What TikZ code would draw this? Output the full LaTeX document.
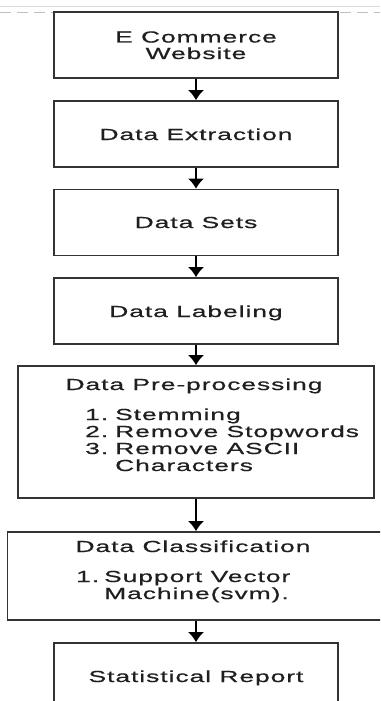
\documentclass[tikz,border=0pt]{standalone}
\usepackage{fontspec}
\setmainfont{Liberation Sans}[FakeStretch=1.65,LetterSpace=6,FakeBold=0.6]
\usetikzlibrary{arrows.meta}

\newcommand*{\wmin}{0}
\newcommand*{\wmax}{380}
\newcommand*{\hmax}{701}
\newcommand*{\midx}{196}

\begin{document}
\begin{tikzpicture}
[
	x=1pt,
	y=-1pt,
	stepbox/.style={draw=black!80,line width=1.6pt,fill=white,inner sep=0pt,minimum width=284pt,minimum height=66pt},
	boxtext/.style={anchor=base,inner sep=0pt,align=center,text=black!88,font=\fontsize{16}{16.5}\selectfont},
	listtext/.style={anchor=base west,inner sep=0pt,text=black!88,font=\fontsize{16}{17}\selectfont},
	flow/.style={-{Latex[width=16pt,length=10pt]},line width=1.6pt}
]

	\useasboundingbox (\wmin,0) rectangle (\wmax,\hmax);
	\clip (\wmin,0) rectangle (\wmax,\hmax);

	% page edge
	\draw[black!15,line width=1pt] (\wmin,7) -- (\wmax,7);
	\draw[black!25,line width=1pt,dash pattern=on 11pt off 6pt] (\wmin,12.5) -- (\wmax,12.5);

	% boxes
	\node[stepbox] (web) at (\midx,45.25) {};
	\node[stepbox] (extract) at (\midx,134) {};
	\node[stepbox] (sets) at (\midx,222.5) {};
	\node[stepbox] (label) at (\midx,311) {};
	\node[stepbox,minimum width=356pt,minimum height=132pt] (prep) at (\midx,432) {};
	\node[stepbox,minimum width=377pt,minimum height=88pt] (classify) at (\midx,576) {};
	\node[stepbox] (report) at (\midx,676) {};

	% texts (a two-line node sits on its last baseline)
	\node[boxtext] (webtxt) at (\midx,59) {E Commerce\\Website};
	\node[boxtext] (extracttxt) at (\midx,140) {Data Extraction};
	\node[boxtext] (setstxt) at (\midx,228) {Data Sets};
	\node[boxtext] (labeltxt) at (\midx,317) {Data Labeling};

	\node[boxtext] (preptxt) at (194,390) {Data Pre-processing};
	\node[listtext] (preplist) at (85,420) {%
		\begin{tabular}[t]{@{}l@{\hspace{7pt}}l@{}}
			1. & Stemming\\
			2. & Remove Stopwords\\
			3. & Remove ASCII\\
			   & Characters
		\end{tabular}};

	\node[boxtext] (classifytxt) at (193,552) {Data Classification};
	\node[listtext] (classifylist) at (76,582) {%
		\begin{tabular}[t]{@{}l@{\hspace{5pt}}l@{}}
			1. & Support Vector\\
			   & Machine(svm).
		\end{tabular}};

	\node[boxtext] (reporttxt) at (\midx,682) {Statistical Report};

	% arrows
	\draw[flow] (web) -- (extract);
	\draw[flow] (extract) -- (sets);
	\draw[flow] (sets) -- (label);
	\draw[flow] (label) -- (prep);
	\draw[flow] (prep) -- (classify);
	\draw[flow] (classify) -- (report);

\end{tikzpicture}
\end{document}
